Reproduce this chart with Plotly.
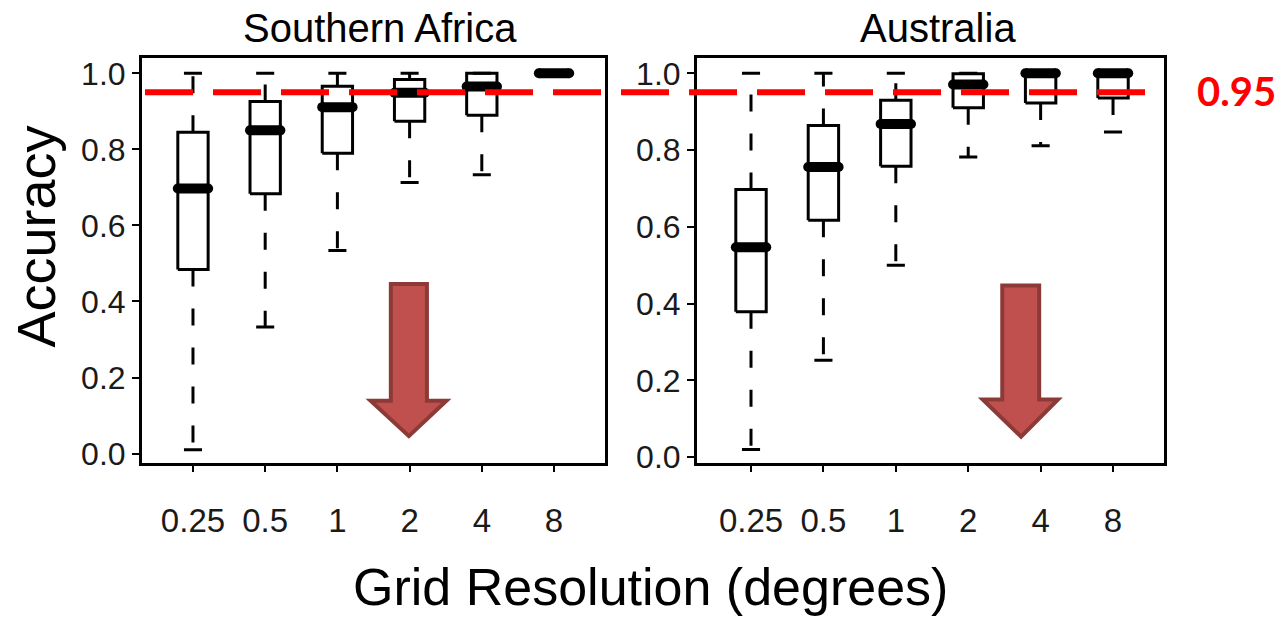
import plotly.graph_objects as go

categories = ["0.25", "0.5", "1", "2", "4", "8"]

# Southern Africa box statistics
sa_lower = [0.01, 0.333, 0.534, 0.713, 0.733, 1.0]
sa_q1 = [0.484, 0.683, 0.790, 0.874, 0.890, 1.0]
sa_median = [0.697, 0.850, 0.911, 0.949, 0.965, 1.0]
sa_q3 = [0.845, 0.926, 0.966, 0.984, 1.0, 1.0]
sa_upper = [1.0, 1.0, 1.0, 1.0, 1.0, 1.0]

# Australia box statistics
au_lower = [0.02, 0.252, 0.500, 0.782, 0.811, 0.847]
au_q1 = [0.379, 0.617, 0.758, 0.910, 0.923, 0.936]
au_median = [0.547, 0.756, 0.868, 0.971, 1.0, 1.0]
au_q3 = [0.697, 0.864, 0.930, 0.999, 1.0, 1.0]
au_upper = [1.0, 1.0, 1.0, 1.0, 1.0, 1.0]

threshold = 0.95
panel_titles = ["Southern Africa", "Australia"]

FONT = "Liberation Sans, Arial, sans-serif"
W, H = 1281, 623
BOX_HALF = 0.21
CAP_HALF = 0.125


def PX(p):
    return p / W


def PY(p):
    return 1 - p / H


fig = go.Figure()


def add_boxes(lower, q1, med, q3, upper, xa, ya):
    for i in range(len(categories)):
        x = i + 1
        common = dict(xaxis=xa, yaxis=ya, showlegend=False, hoverinfo="skip")
        fig.add_trace(go.Scatter(x=[x, x], y=[q3[i], upper[i]], mode="lines",
                                 line=dict(color="black", width=3, dash="17px,22px"), **common))
        fig.add_trace(go.Scatter(x=[x, x], y=[q1[i], lower[i]], mode="lines",
                                 line=dict(color="black", width=3, dash="17px,22px"), **common))
        for v in (upper[i], lower[i]):
            fig.add_trace(go.Scatter(x=[x - CAP_HALF, x + CAP_HALF], y=[v, v], mode="lines",
                                     line=dict(color="black", width=3), **common))
        fig.add_trace(go.Scatter(
            x=[x - BOX_HALF, x + BOX_HALF, x + BOX_HALF, x - BOX_HALF, x - BOX_HALF],
            y=[q1[i], q1[i], q3[i], q3[i], q1[i]], mode="lines",
            line=dict(color="black", width=3), **common))
        fig.add_trace(go.Scatter(x=[x - BOX_HALF, x + BOX_HALF], y=[med[i], med[i]],
                                 mode="lines+markers",
                                 line=dict(color="black", width=10),
                                 marker=dict(color="black", size=10, symbol="circle"),
                                 **common))


add_boxes(sa_lower, sa_q1, sa_median, sa_q3, sa_upper, "x", "y")
add_boxes(au_lower, au_q1, au_median, au_q3, au_upper, "x2", "y2")

tickvals = list(range(1, len(categories) + 1))
yticks = [0.0, 0.2, 0.4, 0.6, 0.8, 1.0]

xax = dict(tickvals=tickvals, ticktext=categories, showline=True, mirror=True,
           linecolor="black", linewidth=3, ticks="outside", ticklen=6, tickwidth=2,
           tickcolor="black", showgrid=False, zeroline=False,
           tickfont=dict(family=FONT, size=33, color="#1a1a1a"), ticklabelstandoff=20)
yax = dict(tickvals=yticks, ticktext=[f"{v:.1f}" for v in yticks], showline=True,
           mirror=True, linecolor="black", linewidth=3, ticks="outside", ticklen=7,
           tickwidth=2, tickcolor="black", showgrid=False, zeroline=False,
           tickfont=dict(family=FONT, size=32, color="#1a1a1a"), ticklabelstandoff=0)

fig.update_layout(
    width=W, height=H,
    margin=dict(l=0, r=0, t=0, b=0),
    paper_bgcolor="white", plot_bgcolor="white",
    xaxis=dict(xax, domain=[PX(142), PX(605)], range=[0.294, 6.706]),
    yaxis=dict(yax, domain=[PY(472), PY(57)], range=[-0.0257, 1.041]),
    xaxis2=dict(xax, domain=[PX(697), PX(1164)], range=[0.254, 6.704], anchor="y2"),
    yaxis2=dict(yax, domain=[PY(472), PY(57)], range=[-0.0165, 1.0407], anchor="x2"),
)

fig.add_shape(type="line", xref="paper", yref="y", x0=PX(145), x1=PX(1160),
              y0=threshold, y1=threshold, layer="above",
              line=dict(color="#ff0000", width=6, dash="48px,20px"))

arrow_color = "#c0504d"
arrow_edge = "#8c3a37"
left_arrow = "M 3.74 0.446 L 4.24 0.446 L 4.24 0.139 L 4.51 0.139 L 3.99 0.046 L 3.46 0.139 L 3.74 0.139 Z"
right_arrow = "M 4.47 0.447 L 4.98 0.447 L 4.98 0.150 L 5.24 0.150 L 4.73 0.053 L 4.20 0.150 L 4.47 0.150 Z"
fig.add_shape(type="path", xref="x", yref="y", path=left_arrow, layer="above",
              fillcolor=arrow_color, line=dict(color=arrow_edge, width=4))
fig.add_shape(type="path", xref="x2", yref="y2", path=right_arrow, layer="above",
              fillcolor=arrow_color, line=dict(color=arrow_edge, width=4))

annots = [
    dict(text=panel_titles[0], x=PX(380), y=PY(27), font=dict(size=40)),
    dict(text=panel_titles[1], x=PX(938), y=PY(27), font=dict(size=40)),
    dict(text="Grid Resolution (degrees)", x=PX(650), y=PY(598), font=dict(size=52)),
    dict(text="Accuracy", x=PX(36), y=PY(240), font=dict(size=54), textangle=-90),
    dict(text="<b>0.95</b>", x=PX(1236), y=PY(91),
         font=dict(size=40, color="#ff0000", family="Lato, Open Sans, sans-serif")),
]
for a in annots:
    f = dict(family=FONT, color="black")
    f.update(a.pop("font"))
    fig.add_annotation(xref="paper", yref="paper", xanchor="center", yanchor="middle",
                       showarrow=False, font=f, **a)

fig.write_html(
    "out.html",
    config=dict(displayModeBar=False),
    post_script=(
        "var d=document.getElementById('{plot_id}');"
        "d.style.position='fixed';d.style.left='0px';d.style.top='0px';"
        "document.body.style.margin='0';"
        "document.documentElement.style.overflow='hidden';"
    ),
)
